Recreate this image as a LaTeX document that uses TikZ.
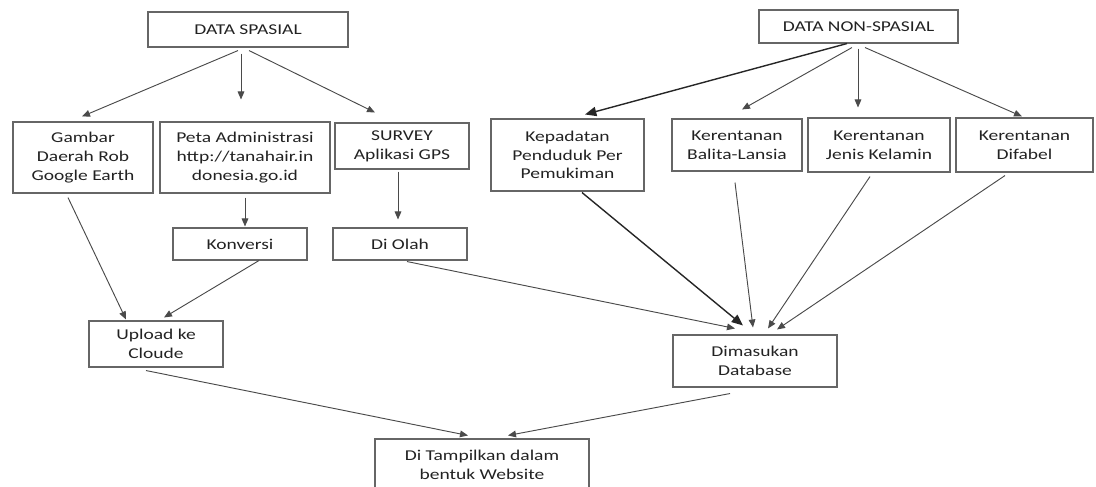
\documentclass[tikz,border=0pt]{standalone}
\usepackage{fontspec}
\setmainfont{Carlito}[FakeStretch=1.3]
\usepackage{tikz}
\usetikzlibrary{arrows.meta,calc}

\definecolor{boxline}{HTML}{666666}
\definecolor{arrline}{HTML}{4A4A4A}
\definecolor{boxtext}{HTML}{222222}

\tikzset{
  box/.style={draw=boxline,line width=0.8pt,rectangle,inner sep=0pt,align=center,
    text=boxtext,font=\fontsize{11.25}{14.1}\selectfont},
  arr/.style={draw=arrline,line width=0.7pt,-{Triangle[length=6pt,width=5pt]}},
  thickarr/.style={draw=black!85,line width=1.05pt,-{Triangle[length=8.5pt,width=7pt]}}
}

\begin{document}
\begin{tikzpicture}[x=0.75pt,y=-0.75pt]
\useasboundingbox (0,0) rectangle (1096,486);
% data spasial
\node[box,minimum width=200*0.75pt,minimum height=35*0.75pt] (spasial) at (248,29.5) {DATA SPASIAL};
\node[box,minimum width=140*0.75pt,minimum height=71*0.75pt] (gambar) at (83,157.5) {Gambar\\Daerah Rob\\Google Earth};
\node[box,minimum width=170*0.75pt,minimum height=71*0.75pt] (peta) at (245,157.5) {Peta Administrasi\\http://tanahair.in\\donesia.go.id};
\node[box,minimum width=134*0.75pt,minimum height=46*0.75pt] (survey) at (402,146) {SURVEY\\Aplikasi GPS};
\node[box,minimum width=134*0.75pt,minimum height=32*0.75pt] (konversi) at (240,244) {Konversi};
\node[box,minimum width=134*0.75pt,minimum height=32*0.75pt] (olah) at (400,244) {Di Olah};
\node[box,minimum width=134*0.75pt,minimum height=46*0.75pt] (upload) at (156,344) {Upload ke\\Cloude};
\node[box,minimum width=214*0.75pt,minimum height=52*0.75pt] (tampil) at (482,465) {Di Tampilkan dalam\\bentuk Website};
% data non-spasial
\node[box,minimum width=199*0.75pt,minimum height=33*0.75pt] (nonspasial) at (858.5,26.5) {DATA NON-SPASIAL};
\node[box,minimum width=153*0.75pt,minimum height=72*0.75pt] (kepadatan) at (567.5,155) {Kepadatan\\Penduduk Per\\Pemukiman};
\node[box,minimum width=130*0.75pt,minimum height=52*0.75pt] (balita) at (737,145) {Kerentanan\\Balita-Lansia};
\node[box,minimum width=142*0.75pt,minimum height=54*0.75pt] (jenis) at (879,145) {Kerentanan\\Jenis Kelamin};
\node[box,minimum width=137*0.75pt,minimum height=54*0.75pt] (difabel) at (1024.5,145) {Kerentanan\\Difabel};
\node[box,minimum width=164*0.75pt,minimum height=52*0.75pt] (database) at (755,361) {Dimasukan\\Database};

% panah kiri
\draw[arr] ($(spasial.south)+(-10,3)$) -- ($(gambar.north)+(-1,-5)$);
\draw[arr] ($(spasial.south)+(-7,6)$) -- ($(peta.north)+(-4,-22)$);
\draw[arr] ($(spasial.south)+(1,3)$) -- ($(survey.north)+(-27,-10)$);
\draw[arr] ($(peta.south)+(0,4)$) -- ($(konversi.north)+(5,-1)$);
\draw[arr] ($(survey.south)+(-4,2)$) -- ($(olah.north)+(-2,-8)$);
\draw[arr] ($(gambar.south)+(-15,4)$) -- ($(upload.north)+(-30,-1)$);
\draw[arr] ($(konversi.south)+(19,0)$) -- ($(upload.north)+(8,-3)$);
\draw[arr] ($(upload.south)+(-10,3)$) -- ($(tampil.north)+(-14,-3)$);
\draw[arr] ($(olah.south)+(7,1)$) -- ($(database.north)+(-20,-6)$);
\draw[arr] ($(database.south)+(-25,6)$) -- ($(tampil.north)+(26,-3)$);
% panah kanan
\draw[thickarr] ($(nonspasial.south)+(-11.5,0)$) -- ($(kepadatan.north)+(17.5,-4)$);
\draw[arr] ($(nonspasial.south)+(-6.5,4)$) -- ($(balita.north)+(5,-9)$);
\draw[arr] ($(nonspasial.south)+(-0.5,5)$) -- ($(jenis.north)+(-21,-10)$);
\draw[arr] ($(nonspasial.south)+(6.5,4)$) -- ($(difabel.north)+(-2.5,-1)$);
\draw[thickarr] ($(kepadatan.south)+(14.5,1)$) -- ($(database.north)+(-12,-9)$);
\draw[arr] ($(balita.south)+(-2,11)$) -- ($(database.north)+(-2,-7)$);
\draw[arr] ($(jenis.south)+(-9,4)$) -- ($(database.north)+(13,-6)$);
\draw[arr] ($(difabel.south)+(-19.5,3)$) -- ($(database.north)+(22,-5)$);
\end{tikzpicture}
\end{document}
